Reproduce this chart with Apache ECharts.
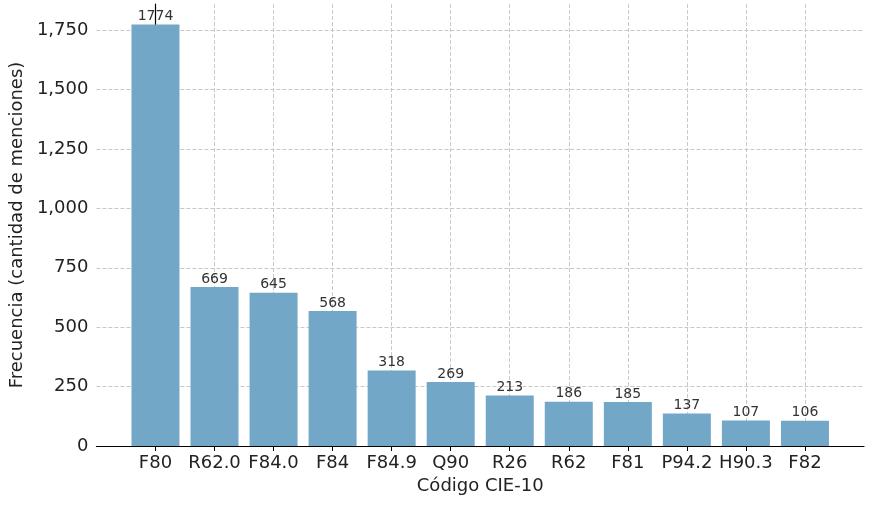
<!DOCTYPE html>
<html lang="es">
<head>
    <meta charset="UTF-8">
    <title>Frecuencia por código CIE-10</title>
    <script src="https://cdn.jsdelivr.net/npm/echarts@6/dist/echarts.min.js"></script>
    <style>
        html, body { margin: 0; padding: 0; background: #fff; }
        #chart { width: 875px; height: 506px; }
    </style>
</head>
<body>
<div id="chart"></div>
<script>
    var codigos = ['F80', 'R62.0', 'F84.0', 'F84', 'F84.9', 'Q90', 'R26', 'R62', 'F81', 'P94.2', 'H90.3', 'F82'];
    var menciones = [1774, 669, 645, 568, 318, 269, 213, 186, 185, 137, 107, 106];
    var yTicks = [0, 250, 500, 750, 1000, 1250, 1500, 1750];

    var font = 'DejaVu Sans';
    var chart = echarts.init(document.getElementById('chart'));
    chart.setOption({
        animation: false,
        grid: { left: 88, right: 11, top: 4, bottom: 60 },
        xAxis: {
            type: 'value', min: -1, max: 12, interval: 1,
            name: 'Código CIE-10', nameLocation: 'middle', nameGap: 30,
            nameTextStyle: { fontFamily: font, fontSize: 18, color: '#222' },
            axisLine: { show: true, onZero: false, lineStyle: { color: '#000', width: 1.2 } },
            axisTick: { show: true, length: 5, lineStyle: { color: '#000' },
                        customValues: codigos.map(function (c, i) { return i; }) },
            axisLabel: {
                fontFamily: font, fontSize: 18, color: '#222', margin: 8,
                customValues: codigos.map(function (c, i) { return i; }),
                formatter: function (v) { return codigos[v] || ''; }
            },
            splitLine: { show: true, lineStyle: { color: '#c8c8c8', type: 'dashed' } }
        },
        yAxis: {
            type: 'value', min: 0, max: 1860, interval: 250,
            name: 'Frecuencia (cantidad de menciones)', nameLocation: 'middle', nameGap: 68,
            nameTextStyle: { fontFamily: font, fontSize: 18, color: '#222' },
            axisLine: { show: true, lineStyle: { color: '#000', width: 1.2 } },
            axisTick: { show: true, length: 5, lineStyle: { color: '#000' }, customValues: yTicks },
            axisLabel: { fontFamily: font, fontSize: 18, color: '#222', customValues: yTicks },
            splitLine: { show: true, lineStyle: { color: '#c8c8c8', type: 'dashed' } }
        },
        series: [{
            type: 'bar',
            barWidth: 48,
            data: menciones.map(function (v, i) { return [i, v]; }),
            itemStyle: { color: '#72a7c8' },
            label: {
                show: true, position: 'top', distance: 1,
                fontFamily: font, fontSize: 14, color: '#333',
                formatter: function (p) { return p.value[1]; }
            }
        }]
    });
</script>
</body>
</html>
